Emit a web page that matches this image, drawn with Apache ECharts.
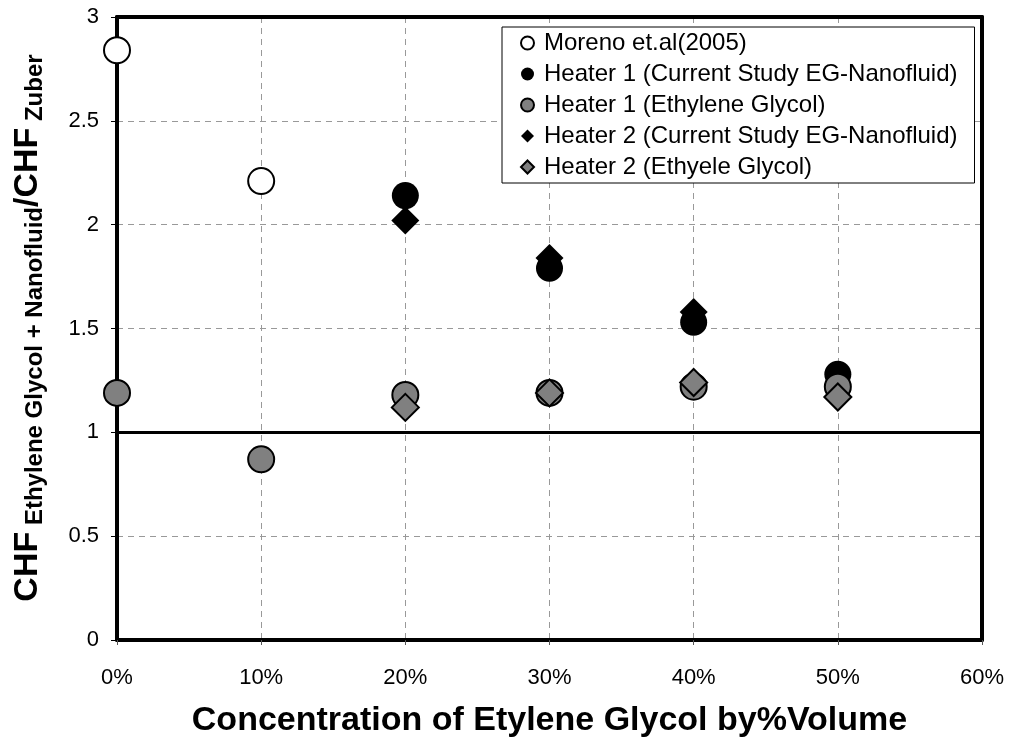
<!DOCTYPE html>
<html>
<head>
<meta charset="utf-8">
<script src="https://cdn.jsdelivr.net/npm/echarts@6/dist/echarts.min.js"></script>
<style>
  html, body { margin: 0; padding: 0; background: #fff; }
  #chart { width: 1010px; height: 749px; }
</style>
</head>
<body>
<div id="chart"></div>
<script>
// Concentration of ethylene glycol (% by volume) vs. CHF ratio
const xTicks = [0, 10, 20, 30, 40, 50, 60];
const yTicks = [0, 0.5, 1, 1.5, 2, 2.5, 3];

const moreno = [[0, 2.84], [10, 2.21]];
const heater1Nano = [[20, 2.14], [30, 1.79], [40, 1.53], [50, 1.28]];
const heater1EG = [[0, 1.19], [10, 0.87], [20, 1.18], [30, 1.19], [40, 1.22], [50, 1.22]];
const heater2Nano = [[20, 2.02], [30, 1.84], [40, 1.58]];
const heater2EG = [[20, 1.12], [30, 1.19], [40, 1.24], [50, 1.17]];
const referenceRatio = 1;

const seriesNames = [
  'Moreno et.al(2005)',
  'Heater 1 (Current Study EG-Nanofluid)',
  'Heater 1 (Ethylene Glycol)',
  'Heater 2 (Current Study EG-Nanofluid)',
  'Heater 2 (Ethyele Glycol)'
];

const FONT = '"Liberation Sans", Arial, sans-serif';
const chart = echarts.init(document.getElementById('chart'));

function scatter(name, data, symbol, fill, border, size) {
  return {
    name: name,
    type: 'scatter',
    data: data,
    symbol: symbol,
    symbolSize: size,
    itemStyle: { color: fill, borderColor: border || fill, borderWidth: border ? 2 : 0, opacity: 1 },
    emphasis: { disabled: true }
  };
}

const series = [
  scatter(seriesNames[0], moreno, 'circle', '#ffffff', '#000000', 26),
  scatter(seriesNames[1], heater1Nano, 'circle', '#000000', null, 27),
  scatter(seriesNames[2], heater1EG, 'circle', '#808080', '#000000', 26),
  scatter(seriesNames[3], heater2Nano, 'diamond', '#000000', null, 28),
  scatter(seriesNames[4], heater2EG, 'diamond', '#808080', '#000000', 27)
];
// horizontal reference line at ratio = 1
series[0].markLine = {
  silent: true,
  symbol: 'none',
  label: { show: false },
  lineStyle: { color: '#000', width: 3, type: 'solid' },
  data: [{ yAxis: referenceRatio }]
};

const dashed = { show: true, lineStyle: { color: '#999', width: 1, type: [6, 5] } };
const frameLine = { show: true, onZero: false, lineStyle: { color: '#000', width: 4 } };

chart.setOption({
  animation: false,
  backgroundColor: '#ffffff',
  textStyle: { fontFamily: FONT },
  grid: { left: 117, right: 28, top: 17, bottom: 109 },
  xAxis: [{
    type: 'value',
    min: xTicks[0], max: xTicks[xTicks.length - 1], interval: 10,
    name: 'Concentration of Etylene Glycol by%Volume',
    nameLocation: 'middle',
    nameGap: 64,
    nameTextStyle: { fontSize: 34, fontWeight: 'bold', color: '#000', fontFamily: FONT },
    axisLine: frameLine,
    axisTick: { show: true, length: 5, lineStyle: { color: '#555', width: 1 } },
    axisLabel: { fontSize: 22, color: '#000', margin: 27, formatter: '{value}%' },
    splitLine: dashed
  }, {
    // top edge of the frame
    type: 'value', position: 'top',
    min: xTicks[0], max: xTicks[xTicks.length - 1], interval: 10,
    axisLine: frameLine, axisTick: { show: false }, axisLabel: { show: false }, splitLine: { show: false }
  }],
  yAxis: [{
    type: 'value',
    min: yTicks[0], max: yTicks[yTicks.length - 1], interval: 0.5,
    axisLine: frameLine,
    axisTick: { show: true, length: 6, lineStyle: { color: '#000', width: 1 } },
    axisLabel: { fontSize: 22, color: '#000', margin: 18 },
    splitLine: dashed
  }, {
    // right edge of the frame
    type: 'value', position: 'right',
    min: yTicks[0], max: yTicks[yTicks.length - 1], interval: 0.5,
    axisLine: frameLine, axisTick: { show: false }, axisLabel: { show: false }, splitLine: { show: false }
  }],
  legend: {
    orient: 'vertical',
    left: 502, top: 27,
    padding: [4, 17, 4, 18],
    itemGap: 7,
    itemWidth: 13, itemHeight: 13,
    backgroundColor: '#fff',
    borderColor: '#000', borderWidth: 1, borderRadius: 0,
    selectedMode: false,
    textStyle: { fontSize: 24, lineHeight: 24, color: '#000', fontFamily: FONT, padding: [0, 0, 0, 5] },
    data: seriesNames.map(function (n) { return { name: n }; })
  },
  graphic: [{
    type: 'text',
    x: 28, y: 328,
    rotation: Math.PI / 2,
    style: {
      text: '{big|CHF}{sub| Ethylene Glycol + Nanofluid}{big|/CHF}{sub| Zuber}',
      textAlign: 'center',
      textVerticalAlign: 'middle',
      fill: '#000',
      rich: {
        big: { fontSize: 34, fontWeight: 'bold', fontFamily: FONT, fill: '#000', lineHeight: 40 },
        sub: { fontSize: 24, fontWeight: 'bold', fontFamily: FONT, fill: '#000', padding: [14, 0, 0, 0], lineHeight: 24 }
      }
    }
  }],
  series: series
});
</script>
</body>
</html>
